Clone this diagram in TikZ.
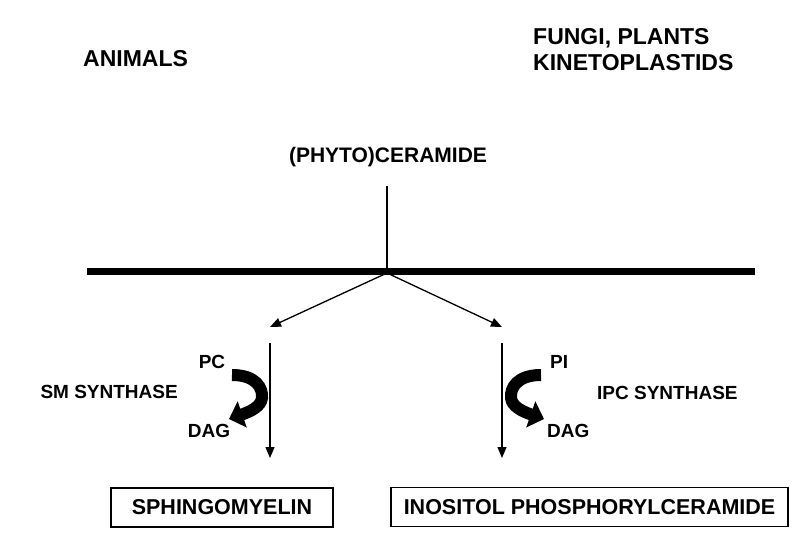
\documentclass[tikz,border=0pt]{standalone}
\usepackage{fontspec}
\setmainfont{Liberation Sans}
\usetikzlibrary{arrows.meta}
\tikzstyle{every picture}=[x=1pt, y=-1pt, >={Triangle[length=11pt,width=9pt]}]
\tikzstyle{big}=[inner sep=0pt, font=\fontsize{23}{26}\selectfont\bfseries]
\tikzstyle{mid}=[inner sep=0pt, font=\fontsize{21}{24}\selectfont\bfseries]
\tikzstyle{small}=[inner sep=0pt, font=\fontsize{19}{22}\selectfont\bfseries]
\tikzstyle{product}=[draw, line width=1.4pt, minimum height=39pt, inner sep=0pt,%
	font=\fontsize{21.5}{24}\selectfont\bfseries]
\tikzstyle{thin}=[line width=1.3pt]
\tikzstyle{fat}=[line width=12pt, -{Triangle[length=14pt,width=27pt]}]

\begin{document}
\begin{tikzpicture}
\useasboundingbox (0,0) rectangle (800,537);
\node[big, anchor=base west] (animals) at (83,67) {ANIMALS};
\node[big, anchor=base west] (fungi) at (533,45) {FUNGI, PLANTS};
\node[big, anchor=base west] (kineto) at (533,71) {KINETOPLASTIDS};
\node[mid, anchor=base] (cer) at (388,163) {(PHYTO)CERAMIDE};
% membrane
\coordinate (mleft) at (87,272);
\coordinate (mright) at (755,272);
\draw[line width=7pt] (mleft) -- (mright);
\coordinate (j) at (387,273);
\coordinate (top) at (387,186);
\draw[thin] (top) -- (j);
% branches
\coordinate (ltip) at (270,327);
\coordinate (rtip) at (502,327);
\draw[thin,->] (j) -- (ltip);
\draw[thin,->] (j) -- (rtip);
\coordinate (la) at (270,343);
\coordinate (lb) at (270,458);
\coordinate (ra) at (502,343);
\coordinate (rb) at (502,458);
\draw[thin,->] (la) -- (lb);
\draw[thin,->] (ra) -- (rb);
% SM side
\node[small, anchor=base] (pc) at (212,368) {PC};
\node[small, anchor=base] (dag1) at (209,437) {DAG};
\node[small, anchor=base east] (smsyn) at (178,398) {SM SYNTHASE};
\draw[fat] (232,375) .. controls (256,375) and (263,388) .. (262,398)
	.. controls (261,406) and (252,411) .. (229,419);
% IPC side
\node[small, anchor=base west] (pi) at (550,368) {PI};
\node[small, anchor=base west] (dag2) at (547,437) {DAG};
\node[small, anchor=base west] (ipcsyn) at (597,399) {IPC SYNTHASE};
\draw[fat] (541,375) .. controls (517,375) and (510,388) .. (511,398)
	.. controls (512,406) and (521,411) .. (544,419);
% products
\node[product, minimum width=222pt] (sm) at (222,507.5) {SPHINGOMYELIN};
\node[product, minimum width=397pt] (ipc) at (589.5,507) {INOSITOL PHOSPHORYLCERAMIDE};
\end{tikzpicture}
\end{document}
